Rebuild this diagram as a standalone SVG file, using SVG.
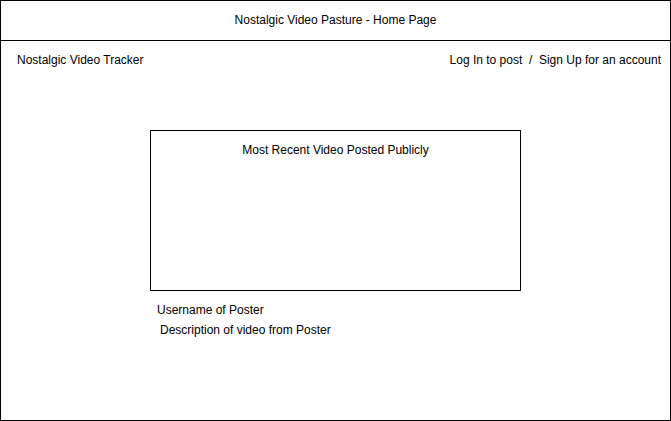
<svg xmlns="http://www.w3.org/2000/svg" width="671" height="421" viewBox="0 0 671 421">
<style>
.box{fill:#ffffff;stroke:#000000;stroke-width:1}
.t{font-family:"Liberation Sans",Arial,sans-serif;font-size:12px;fill:#000000}
.c{text-anchor:middle}
</style>
<g id="page">
<rect class="box" x="0.5" y="0.5" width="670" height="420"/>
</g>
<g id="header">
<rect class="box" x="0.5" y="0.5" width="670" height="40"/>
<text class="t c" x="335.5" y="24">Nostalgic Video Pasture - Home Page</text>
</g>
<g id="tracker"><text class="t" x="17" y="64">Nostalgic Video Tracker</text></g>
<g id="login"><text class="t" x="661" y="64" text-anchor="end" xml:space="preserve">Log In to post  /  Sign Up for an account</text></g>
<g id="video">
<rect class="box" x="150.5" y="130.5" width="370" height="160"/>
<text class="t c" x="335.5" y="154">Most Recent Video Posted Publicly</text>
</g>
<g id="username"><text class="t" x="157" y="314">Username of Poster</text></g>
<g id="description"><text class="t" x="160" y="334">Description of video from Poster</text></g>
<g id="connectors"/>
</svg>
